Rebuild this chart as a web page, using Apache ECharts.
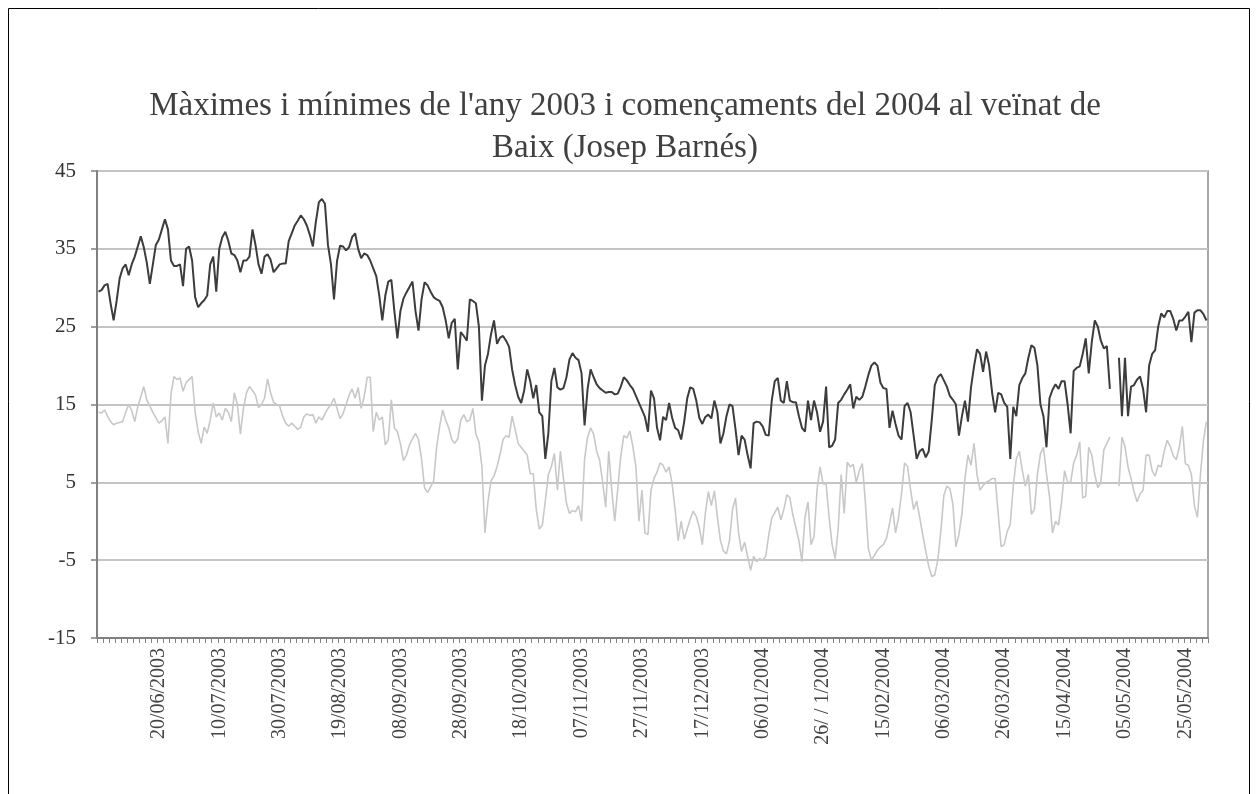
<!DOCTYPE html>
<html>
<head>
<meta charset="utf-8">
<script src="https://cdn.jsdelivr.net/npm/echarts@6/dist/echarts.min.js"></script>
<style>
html,body{margin:0;padding:0;background:#fff;}
#chart{width:1257px;height:794px;}
</style>
</head>
<body>
<div id="chart"></div>
<script>
// Category dates: daily from 31/05/2003 to 01/06/2004 (368 days)
const startDate = [2003, 4, 31];
const dayCount = 368;

// Tick labels shown every 20 days (starting 20/06/2003)
const tickLabels = ["20/06/2003","10/07/2003","30/07/2003","19/08/2003","08/09/2003","28/09/2003",
  "18/10/2003","07/11/2003","27/11/2003","17/12/2003","06/01/2004","26/ / 1/2004",
  "15/02/2004","06/03/2004","26/03/2004","15/04/2004","05/05/2004","25/05/2004"];

// Daily maxima (°C)
const maxima = [29.5,
 29.7,30.3,30.5,28,25.8,28.3,31.2,32.5,33,31.6,
 33,34,35.3,36.6,35.2,33.2,30.5,33,35.5,36.2,
 37.5,38.8,37.5,33.5,32.8,32.8,33,30.2,35,35.3,
 33.5,28.8,27.5,28,28.4,29,33,34,29.5,35,
 36.5,37.2,36,34.4,34.2,33.5,32,33.5,33.5,34,
 37.5,35.5,33,31.8,34,34.3,33.6,32,32.5,33,
 33.1,33.1,36,37,38,38.6,39.3,38.8,38,36.8,
 35.3,38.5,41,41.4,40.8,35.5,33,28.5,33.4,35.4,
 35.3,34.8,35.2,36.5,37,35,33.8,34.4,34.2,33.5,
 32.5,31.5,29,25.8,29,30.8,31,27,23.5,27,
 28.6,29.4,30.1,30.8,27,24.5,28.5,30.7,30.3,29.5,
 28.8,28.5,28.3,27.5,25.8,23.5,25.5,26,19.5,24.3,
 23.8,23.2,28.5,28.3,28,25,15.5,20,21.5,24,
 25.8,22.8,23.6,23.8,23.2,22.4,19.5,17.5,16,15.2,
 16.8,19.5,18,15.8,17.5,14,13.5,8,11.3,18,
 19.7,17.2,16.9,17.1,18.5,20.8,21.6,21,20.7,19,
 12.3,17,19.5,18.5,17.6,17.1,16.8,16.5,16.6,16.6,
 16.3,16.4,17.3,18.5,18.1,17.5,17,16.1,15.2,14.3,
 13.4,11.5,16.8,15.8,12,10.4,13.4,13,15.2,13.3,
 12,11.7,10.5,12.8,15.8,17.2,17,15.5,13.3,12.5,
 13.4,13.7,13.2,15.5,14,10,11.3,13.5,15,14.8,
 11.8,8.5,11,10.5,8.5,6.8,12.6,12.8,12.7,12.2,
 11.1,11,15.5,18,18.4,15.5,15.2,18,15.5,15.3,
 15.3,13.5,12,11.5,15.5,13,15.5,14,11.5,12.8,
 17.3,9.5,9.7,10.5,15.2,15.6,16.3,16.9,17.6,14.5,
 16,15.6,16,17.3,18.8,20,20.4,20,17.8,17.1,
 17,12,14.2,12.5,11,10.5,14.8,15.2,14,11,
 8,9,9.3,8.2,9,13,17.5,18.5,18.9,18.1,
 17.3,16.1,15.6,15,11,13.5,15.5,12.8,17.2,19.9,
 22.1,21.5,19.2,21.8,20,16.5,14,16.5,16.3,15.2,
 14.7,8,14.7,13.5,17.5,18.4,19,21,22.6,22.3,
 20,15,13.5,9.5,15.8,16.9,17.6,17,18,18,
 15,11.3,19.3,19.7,19.9,21.5,23.5,19,23,25.8,
 25,23.2,22.2,22.5,17,null,null,21,13.5,21,
 13.5,17.3,17.5,18.2,18.6,17,14,20,21.5,22,
 25,26.7,26.2,27,27,26,24.5,25.8,25.8,26.3,
 26.9,23,26.8,27.1,27.1,26.6,25.8];

// Daily minima (°C)
const minima = [14,
 13.9,14.3,13.5,12.8,12.4,12.6,12.7,12.8,14,15,
 14.2,12.8,14.7,16,17.3,15.6,14.8,14,13.3,12.6,
 12.9,13.4,10,16.3,18.6,18.2,18.4,16.7,17.8,18.2,
 18.6,14,11.5,10,12.1,11.3,13,15.2,13.4,13.9,
 13,14.5,14,12.8,16.5,15,11.2,14.5,16.5,17.3,
 16.8,16.2,14.6,15,15.8,18.3,16.5,15.3,15,14.8,
 13.5,12.6,12.2,12.6,12.2,11.8,12.1,13.4,13.8,13.6,
 13.7,12.6,13.4,13,13.8,14.5,15,15.8,14.5,13.2,
 13.8,15,16.2,17,15.8,17.2,14.5,16,18.5,18.5,
 11.5,14,13,13.4,9.8,10.5,15.6,12,11.5,10,
 7.8,8.5,9.8,10.6,11.3,10.5,8,4.3,3.7,4.4,
 5.2,9.5,12.2,14.3,13,12,10.5,10,10.6,13,
 13.7,12.8,13,14.5,11.2,10.2,7,-1.5,2.5,5.2,
 5.8,7,8.6,10.5,11,10.8,13.5,11.8,10,9.5,
 9,8.5,6.1,6.1,1.5,-1,-0.5,2.6,6,7,
 8.7,4,9,5.5,2.3,1,1.4,1.2,2,0,
 8,10.8,12,11.2,9,7.8,5,1.8,9,4,
 0,4.2,8.4,11,10.7,11.6,9.6,7,0,4,
 -1.5,-1.7,4,5.5,6.3,7.5,7.2,6.3,7,4.8,
 1.5,-2.5,0,-2.3,-1,0.3,1.3,0.6,-0.8,-3,
 1,3.8,2,3.9,0.5,-2.5,-3.8,-4.2,-2.5,1.5,
 3,-1.5,-3.9,-2.7,-4.5,-6.3,-4.5,-5.2,-4.8,-5,
 -4.5,-1.8,0.4,1.1,1.8,0.2,1.5,3.4,3,0.8,
 -0.8,-2.5,-5.2,0.5,2.5,-3,-2,4,7,4.8,
 4.8,0.5,-3,-4.8,-1,6,1,7.6,7,7.3,
 5,6.5,7.4,2.5,-3.5,-5,-4.4,-3.7,-3.3,-3,
 -2.2,-0.3,1.7,-1.5,0.5,3.6,7.5,7,4,1.5,
 2.6,0.5,-1.7,-3.8,-5.8,-7.1,-6.9,-5,-1.3,3.3,
 4.5,4.2,2.2,-3.3,-1.7,1,5.5,8.5,7.2,10,
 6,4,4.6,5,5.2,5.5,5.5,1,-3.3,-3,
 -1.3,-0.4,4.5,8,9,6.5,4.5,6,0.9,1.5,
 6,8.7,9.5,6.1,3.2,-1.5,0,-0.5,2.5,6.5,
 5,5,7.5,8.5,10.2,3,3.2,9.5,8.5,6,
 4.3,5,9.2,10,10.8,null,null,4.5,10.8,9.6,
 7,5.5,3.8,2.5,3.5,4,8.5,8.5,6.5,5.8,
 7.2,7,9,10.4,9.6,8.4,7.9,9.5,12.2,7.4,
 7.2,6,2,0.5,6,10.4,12.8];

const yTicks = {min: -15, max: 45, step: 10};

function pad(n){ return (n < 10 ? '0' : '') + n; }
const categories = [];
for (let i = 0; i < dayCount; i++) {
  const d = new Date(startDate[0], startDate[1], startDate[2] + i);
  categories.push(pad(d.getDate()) + '/' + pad(d.getMonth() + 1) + '/' + d.getFullYear());
}

const serif = '"Liberation Serif", "DejaVu Serif", serif';
const chart = echarts.init(document.getElementById('chart'), null, {renderer: 'canvas'});
chart.setOption({
  animation: false,
  backgroundColor: '#ffffff',
  title: {
    text: 'Màximes i mínimes de l\'any 2003 i començaments del 2004 al veïnat de\nBaix (Josep Barnés)',
    left: 620, top: 80, textAlign: 'center',
    textStyle: {fontFamily: serif, fontSize: 33, fontWeight: 'normal', color: '#404040', lineHeight: 42}
  },
  graphic: [{
    type: 'rect', shape: {x: 8.5, y: 8.5, width: 1241, height: 800},
    style: {fill: 'none', stroke: '#000', lineWidth: 1}, silent: true
  }],
  grid: {left: 97, right: 49, top: 171, bottom: 156, show: true, borderColor: '#8a8a8a', borderWidth: 1.5, backgroundColor: 'transparent'},
  xAxis: {
    type: 'category', data: categories, boundaryGap: true,
    axisLine: {onZero: false, lineStyle: {color: '#808080', width: 2}},
    axisTick: {show: true, interval: 1, length: 5, lineStyle: {color: '#808080', width: 1}},
    axisLabel: {
      rotate: 90, margin: 10, fontFamily: serif, fontSize: 20, color: '#444',
      interval: function (idx) { return idx > 0 && idx % 20 === 0; },
      formatter: function (val, idx) { return tickLabels[idx / 20 - 1] || ''; }
    },
    splitLine: {show: false}
  },
  yAxis: {
    type: 'value', min: yTicks.min, max: yTicks.max, interval: yTicks.step,
    axisLine: {show: true, lineStyle: {color: '#808080', width: 2}},
    axisTick: {show: true, length: 6, lineStyle: {color: '#808080', width: 1.5}},
    axisLabel: {fontFamily: serif, fontSize: 21, color: '#333', margin: 21},
    splitLine: {show: true, lineStyle: {color: '#c4c4c4', width: 2}}
  },
  series: [
    {name: 'Màximes', type: 'line', data: maxima, showSymbol: false, symbol: 'none', connectNulls: false,
     lineStyle: {color: '#3c3c3c', width: 2}, z: 3},
    {name: 'Mínimes', type: 'line', data: minima, showSymbol: false, symbol: 'none', connectNulls: false,
     lineStyle: {color: '#c8c8c8', width: 1.6}, z: 2}
  ]
});
</script>
</body>
</html>
